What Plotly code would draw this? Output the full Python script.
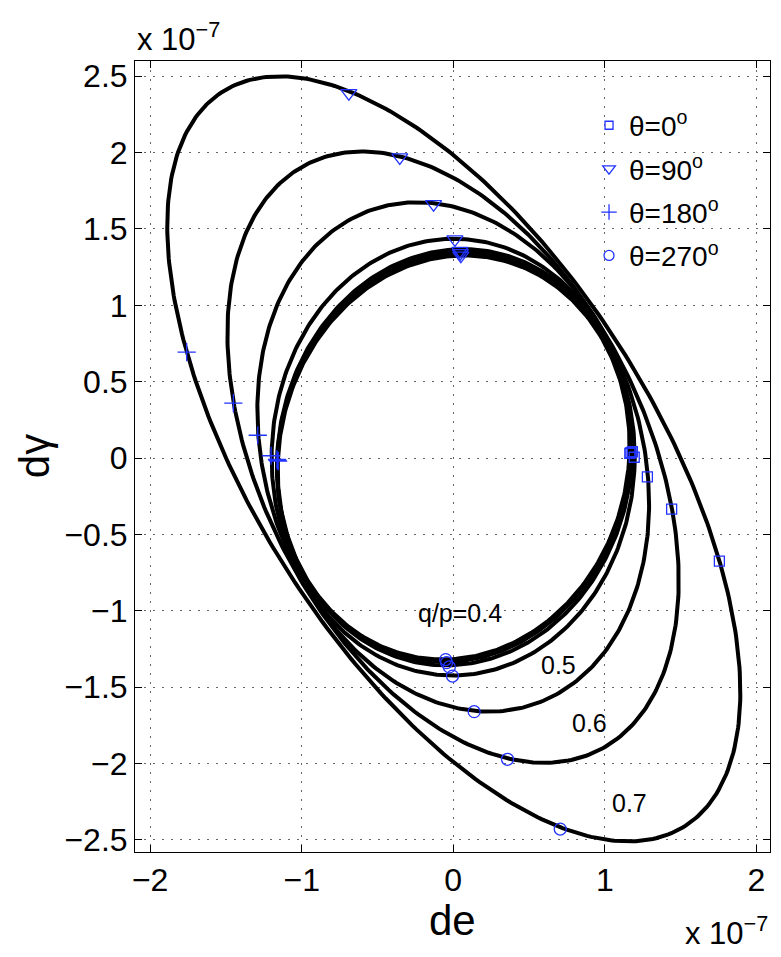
import numpy as np
import plotly.graph_objects as go

# q/p ratio of each ellipse
q_over_p = [0.1, 0.2, 0.3, 0.4, 0.5, 0.6, 0.7]

# marker positions (units of 1e-7)
de_0 = [1.165, 1.172, 1.182, 1.194, 1.281, 1.441, 1.756]
dg_0 = [0.030, 0.036, 0.041, 0.005, -0.123, -0.334, -0.675]
de_90 = [0.050, 0.047, 0.044, 0.011, -0.130, -0.353, -0.689]
dg_90 = [1.325, 1.342, 1.357, 1.432, 1.663, 1.969, 2.390]
de_180 = [-1.155, -1.160, -1.163, -1.202, -1.290, -1.451, -1.759]
dg_180 = [-0.020, -0.015, -0.009, 0.015, 0.149, 0.360, 0.693]
de_270 = [-0.050, -0.044, -0.026, -0.005, 0.138, 0.358, 0.706]
dg_270 = [-1.320, -1.340, -1.368, -1.428, -1.661, -1.973, -2.430]

# in-plot labels
label_text = ['q/p=0.4', '0.5', '0.6', '0.7']
label_x = [0.047, 0.692, 0.900, 1.165]
label_y = [-1.016, -1.356, -1.735, -2.260]

x_ticks = [-2, -1, 0, 1, 2]
y_ticks = [-2.5, -2, -1.5, -1, -0.5, 0, 0.5, 1, 1.5, 2, 2.5]

FONT = 'Liberation Sans, Arial, sans-serif'
BLUE = '#2233ff'

fig = go.Figure()

# ellipses through the four theta points
t = np.linspace(0, 2 * np.pi, 400)
for i in range(len(q_over_p)):
    cx = (de_0[i] + de_90[i] + de_180[i] + de_270[i]) / 4
    cy = (dg_0[i] + dg_90[i] + dg_180[i] + dg_270[i]) / 4
    ax_, ay_ = (de_0[i] - de_180[i]) / 2, (dg_0[i] - dg_180[i]) / 2
    bx_, by_ = (de_90[i] - de_270[i]) / 2, (dg_90[i] - dg_270[i]) / 2
    fig.add_trace(go.Scatter(
        x=cx + ax_ * np.cos(t) + bx_ * np.sin(t),
        y=cy + ay_ * np.cos(t) + by_ * np.sin(t),
        mode='lines', line=dict(color='black', width=4),
        showlegend=False, hoverinfo='skip'))

markers = [
    (de_0, dg_0, 'square-open', 10, 'θ=0<sup>o</sup>', 8),
    (de_90, dg_90, 'triangle-down-open', 14, 'θ=90<sup>o</sup>', 11),
    (de_180, dg_180, 'cross-thin-open', 13, 'θ=180<sup>o</sup>', 11),
    (de_270, dg_270, 'circle-open', 12, 'θ=270<sup>o</sup>', 10),
]
for k, (xs, ys, sym, size, name, lsize) in enumerate(markers):
    fig.add_trace(go.Scatter(
        x=xs, y=ys, mode='markers', showlegend=False,
        marker=dict(symbol=sym, size=size, color=BLUE,
                    line=dict(color=BLUE, width=1.3))))
    # smaller copy for the legend
    fig.add_trace(go.Scatter(
        x=[None], y=[None], mode='markers', name=name, legendgroup=str(k),
        marker=dict(symbol=sym, size=lsize, color=BLUE,
                    line=dict(color=BLUE, width=1.3))))

for txt, lx, ly in zip(label_text, label_x, label_y):
    fig.add_annotation(x=lx, y=ly, text=txt, showarrow=False,
                       font=dict(size=25, color='black', family=FONT))

# exponent labels and axis titles
fig.add_annotation(xref='paper', yref='paper', x=0, y=1.003, xanchor='left',
                   yanchor='bottom', showarrow=False, text='x 10<sup>−7</sup>',
                   font=dict(size=31, color='black', family=FONT))
fig.add_annotation(xref='paper', yref='paper', x=1.0, y=-0.128, xanchor='right',
                   yanchor='bottom', showarrow=False, text='x 10<sup>−7</sup>',
                   font=dict(size=31, color='black', family=FONT))
fig.add_annotation(xref='paper', yref='paper', x=0.5, y=-0.086, xanchor='center',
                   yanchor='middle', showarrow=False, text='de',
                   font=dict(size=42, color='black', family=FONT))
fig.add_annotation(xref='paper', yref='paper', x=-0.158, y=0.5, xanchor='center',
                   yanchor='middle', showarrow=False, text='dγ', textangle=-90,
                   font=dict(size=42, color='black', family=FONT))

axis_style = dict(ticks='inside', ticklen=7, tickcolor='black', mirror='allticks',
                  showline=True, linecolor='black', linewidth=1,
                  showgrid=True, gridcolor='#666666', gridwidth=1,
                  griddash='2px,7px', zeroline=False,
                  tickfont=dict(size=32, color='black', family=FONT))
fig.update_xaxes(range=[-2.1, 2.09], tickvals=x_ticks, **axis_style)
fig.update_yaxes(range=[-2.58, 2.6], tickvals=y_ticks, **axis_style)

fig.update_layout(
    width=773, height=949,
    margin=dict(l=127, r=11, t=53, b=105),
    paper_bgcolor='white', plot_bgcolor='white',
    font=dict(family=FONT, color='black'),
    legend=dict(x=0.715, y=0.95, xanchor='left', yanchor='top',
                bgcolor='rgba(0,0,0,0)', borderwidth=0,
                tracegroupgap=4,
                font=dict(size=28, color='black', family=FONT),
                itemwidth=30),
)

fig.write_html("out.html")
